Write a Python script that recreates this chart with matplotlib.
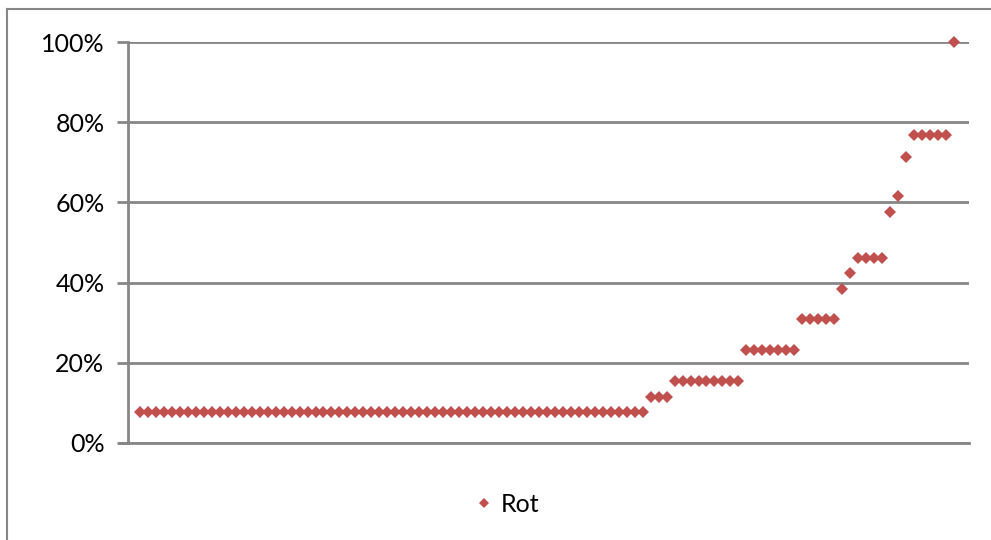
import matplotlib
matplotlib.use("Agg")
import matplotlib.pyplot as plt
from matplotlib.lines import Line2D
from matplotlib.ticker import FixedLocator, FuncFormatter

plt.rcParams['font.family'] = ['Lato', 'DejaVu Sans']

series_name = "Rot"
rot_values = [
    0.077, 0.077, 0.077, 0.077, 0.077, 0.077, 0.077, 0.077, 0.077, 0.077,
    0.077, 0.077, 0.077, 0.077, 0.077, 0.077, 0.077, 0.077, 0.077, 0.077,
    0.077, 0.077, 0.077, 0.077, 0.077, 0.077, 0.077, 0.077, 0.077, 0.077,
    0.077, 0.077, 0.077, 0.077, 0.077, 0.077, 0.077, 0.077, 0.077, 0.077,
    0.077, 0.077, 0.077, 0.077, 0.077, 0.077, 0.077, 0.077, 0.077, 0.077,
    0.077, 0.077, 0.077, 0.077, 0.077, 0.077, 0.077, 0.077, 0.077, 0.077,
    0.077, 0.077, 0.077, 0.077,
    0.115, 0.115, 0.115,
    0.154, 0.154, 0.154, 0.154, 0.154, 0.154, 0.154, 0.154, 0.154,
    0.231, 0.231, 0.231, 0.231, 0.231, 0.231, 0.231,
    0.308, 0.308, 0.308, 0.308, 0.308,
    0.385, 0.423,
    0.462, 0.462, 0.462, 0.462,
    0.577, 0.615, 0.712,
    0.769, 0.769, 0.769, 0.769, 0.769,
    1.000,
]
x_index = list(range(1, len(rot_values) + 1))
y_ticks = [0.0, 0.2, 0.4, 0.6, 0.8, 1.0]

GRID = "#868686"
RED = "#C0504D"

fig = plt.figure(figsize=(9.91, 5.40), dpi=100)
ax = fig.add_axes([128 / 991, 1 - 443 / 540, (969 - 128) / 991, (443 - 42) / 540])

ax.plot(x_index, rot_values, linestyle="none", marker="D", markersize=6,
        color=RED, markeredgewidth=0, label=series_name, zorder=3, clip_on=False)

ax.set_xlim(-0.5, 104.9)
ax.set_ylim(0, 1)
ax.yaxis.set_major_locator(FixedLocator(y_ticks))
ax.yaxis.set_major_formatter(FuncFormatter(lambda v, p: f"{v * 100:.0f}%"))
ax.set_xticks([])
ax.grid(axis="y", color=GRID, linewidth=2.0)
ax.set_axisbelow(True)

for side in ("top", "right"):
    ax.spines[side].set_visible(False)
for side in ("left", "bottom"):
    ax.spines[side].set_color(GRID)
    ax.spines[side].set_linewidth(2.0)

ax.tick_params(axis="y", direction="out", length=8, width=2.0, color=GRID,
               labelsize=18, pad=9, labelcolor="#000000")

# extend the horizontal axis to the left edge of the outward tick marks
ax.plot([-0.5 - 8 / 7.97, -0.5], [0, 0], color=GRID, linewidth=2.0,
        clip_on=False, zorder=2)

# chart area border (left and top edges)
fig.add_artist(Line2D([7 / 991, 7 / 991], [0, 1 - 9 / 540], transform=fig.transFigure,
                      color=GRID, linewidth=1.5))
fig.add_artist(Line2D([7 / 991, 1], [1 - 9 / 540, 1 - 9 / 540], transform=fig.transFigure,
                      color=GRID, linewidth=1.5))

fig.legend(loc="center", bbox_to_anchor=(508 / 991, 1 - 504 / 540), frameon=False,
           fontsize=18, handlelength=0.6, handletextpad=0.35, markerscale=0.8)

fig.savefig("out.png", dpi=100, facecolor="white")
